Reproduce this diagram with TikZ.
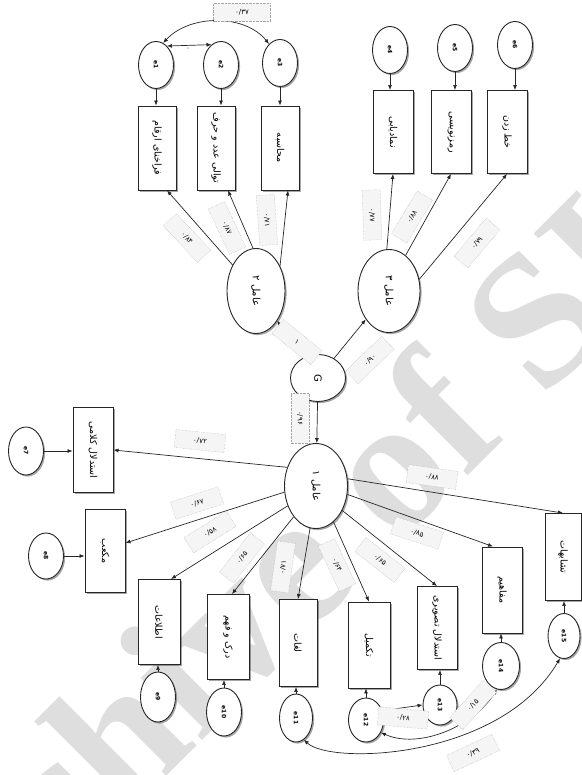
\documentclass[tikz,border=0pt]{standalone}
\usepackage{fontspec}
\usepackage{graphicx}
\usetikzlibrary{shapes.geometric,shadows,arrows.meta}
\TeXXeTstate=1
\newfontfamily\fa[Script=Arabic]{DejaVu Sans}
\newfontfamily\fanum{DejaVu Sans}
\newfontfamily\wmfont{Liberation Serif}
\newcommand{\rtext}[1]{\rotatebox{-90}{\fa\beginR #1\endR}}
\newcommand{\rlat}[1]{\rotatebox{-90}{#1}}
\tikzset{
  shd/.style={drop shadow={shadow xshift=1.6pt, shadow yshift=-1.6pt, opacity=0.35, fill=black}},
  obs/.style={rectangle, draw=black!85, line width=0.9pt, fill=white, minimum width=38pt, minimum height=84pt, inner sep=1pt, shd, font=\fa\fontsize{9.5}{11}\selectfont},
  lat/.style={ellipse, draw=black!85, line width=0.9pt, fill=white, inner sep=0pt, shd, font=\fa\fontsize{10}{12}\selectfont},
  err/.style={ellipse, draw=black!85, line width=0.9pt, fill=white, inner sep=0pt, minimum width=35pt, minimum height=47pt, shd, font=\fanum\bfseries\fontsize{6}{7}\selectfont},
  lbl/.style={draw=black!35, densely dotted, fill=black!4, inner sep=1pt, minimum width=50pt, minimum height=18pt, font=\fanum\fontsize{7}{8}\selectfont},
  arr/.style={draw=black!85, line width=0.7pt, -{Latex[length=5pt,width=4pt]}},
  biarr/.style={draw=black!85, line width=0.7pt, {Latex[length=5pt,width=4pt]}-{Latex[length=5pt,width=4pt]}},
}
\begin{document}
\begin{tikzpicture}[x=1pt,y=-1pt]
\useasboundingbox (0,0) rectangle (581,775);
% watermark
\node[text=black!13, font=\wmfont\bfseries\fontsize{190}{190}\selectfont, rotate=45, inner sep=0pt] (wm) at (292,558) {Archive of SID};

% latent variables
\node[lat, minimum width=55pt, minimum height=47pt] (G) at (318,378) {\rlat{G}};
\node[lat, minimum width=58pt, minimum height=85pt] (F2) at (256,291) {\rtext{عامل ۲}};
\node[lat, minimum width=62pt, minimum height=83pt] (F3) at (389,291) {\rtext{عامل ۳}};
\node[lat, minimum width=63pt, minimum height=85pt] (F1) at (316,486) {\rtext{عامل ۱}};

% factor 2 indicators
\node[obs] (b21) at (157,148) {\rtext{فراخنای ارقام}};
\node[obs] (b22) at (216,148) {\rtext{توالی عدد و حرف}};
\node[obs] (b23) at (280,148) {\rtext{محاسبه}};
\node[err] (e21) at (156,65) {\rlat{e1}};
\node[err] (e22) at (221,65) {\rlat{e2}};
\node[err] (e23) at (280,63) {\rlat{e3}};

% factor 3 indicators
\node[obs, minimum width=40pt, minimum height=83pt] (b31) at (393,132) {\rtext{نمادیابی}};
\node[obs, minimum width=40pt, minimum height=83pt] (b32) at (451,132) {\rtext{رمزنویسی}};
\node[obs, minimum width=40pt, minimum height=83pt] (b33) at (507,132) {\rtext{خط زدن}};
\node[err] (e31) at (390,50) {\rlat{e4}};
\node[err] (e32) at (455,48) {\rlat{e5}};
\node[err] (e33) at (515,45) {\rlat{e6}};

% factor 1 indicators
\node[obs, minimum width=40pt, minimum height=85pt] (b11) at (93,450) {\rtext{استدلال کلامی}};
\node[obs, minimum width=40pt, minimum height=83pt] (b12) at (105,551) {\rtext{مکعب}};
\node[obs, minimum width=42pt, minimum height=85pt] (b13) at (159,622) {\rtext{اطلاعات}};
\node[obs, minimum width=42pt, minimum height=85pt] (b14) at (228,637) {\rtext{درک و فهم}};
\node[obs, minimum width=38pt, minimum height=87pt] (b15) at (298,643) {\rtext{لغات}};
\node[obs, minimum width=42pt, minimum height=86pt] (b16) at (369,645) {\rtext{تکمیل}};
\node[obs, minimum width=40pt, minimum height=83pt] (b17) at (437,628) {\rtext{استدلال تصویری}};
\node[obs, minimum width=40pt, minimum height=86pt] (b18) at (502,590) {\rtext{مفاهیم}};
\node[obs, minimum width=36pt, minimum height=87pt] (b19) at (563,557) {\rtext{تشابهات}};

\node[err, minimum height=48pt] (e11) at (26,451) {\rlat{e7}};
\node[err, minimum height=46pt] (e12) at (46,556) {\rlat{e8}};
\node[err, minimum height=50pt] (e13) at (158,697) {\rlat{e9}};
\node[err, minimum height=48pt] (e14) at (224,712) {\rlat{e10}};
\node[err, minimum width=33pt, minimum height=48pt] (e15) at (296,718) {\rlat{e11}};
\node[err, minimum height=44pt] (e16) at (366,720) {\rlat{e12}};
\node[err, minimum width=34pt, minimum height=40pt] (e17) at (440,705) {\rlat{e13}};
\node[err, minimum width=37pt, minimum height=47pt] (e18) at (501,666) {\rlat{e14}};
\node[err, minimum width=32pt, minimum height=45pt] (e19) at (564,636) {\rlat{e15}};

% G paths
\draw[arr] (G) -- (F2);
\draw[arr] (G) -- (F3);
\draw[arr] (G) -- (F1);

% factor 2 loadings
\draw[arr] (F2.132) -- ([xshift=10pt]b21.south);
\draw[arr] (F2.94) -- ([xshift=12pt]b22.south);
\draw[arr] (F2.46) -- ([xshift=8pt]b23.south);
% factor 3 loadings
\draw[arr] (F3.93) -- (b31.south);
\draw[arr] (F3.65) -- (b32.south);
\draw[arr] (F3.21) -- (b33.south);
% factor 1 loadings
\draw[arr] (F1.147) -- (b11.east);
\draw[arr] (F1.191) -- ([yshift=8pt]b12.east);
\draw[arr] (F1.215) -- ([xshift=12pt]b13.north);
\draw[arr] (F1.234) -- ([xshift=4pt]b14.north);
\draw[arr] (F1.262) -- (b15.north);
\draw[arr] (F1.296) -- (b16.north);
\draw[arr] (F1.317) -- (b17.north);
\draw[arr] (F1.345) -- ([xshift=-9pt]b18.north);
\draw[arr] (F1.13) -- (b19.north);

% error arrows
\draw[arr] (e21.south) -- (e21.south |- b21.north);
\draw[arr] (e22.south) -- (e22.south |- b22.north);
\draw[arr] (e23.south) -- (e23.south |- b23.north);
\draw[arr] (e31.south) -- (e31.south |- b31.north);
\draw[arr] (e32.south) -- (e32.south |- b32.north);
\draw[arr] (e33.south) -- (e33.south |- b33.north);
\draw[arr] (e11.east) -- (e11.east -| b11.west);
\draw[arr] (e12.east) -- (e12.east -| b12.west);
\draw[arr] (e13.north) -- (e13.north |- b13.south);
\draw[arr] (e14.north) -- (e14.north |- b14.south);
\draw[arr] (e15.north) -- (e15.north |- b15.south);
\draw[arr] (e16.north) -- (e16.north |- b16.south);
\draw[arr] (e17.north) -- (e17.north |- b17.south);
\draw[arr] (e18.north) -- (e18.north |- b18.south);
\draw[arr] (e19.north) -- (e19.north |- b19.south);

% covariances
\draw[biarr] (e21.60) -- (e22.115);
\draw[biarr] (e21.72) .. controls (190,14) and (245,14) .. (e23.120);
\draw[biarr] (e16.30) -- (e17.180);
\draw[biarr] (e16.-40) .. controls (420,750) and (475,725) .. (e18.-100);
\draw[biarr] (e15.-70) .. controls (330,765) and (500,760) .. (e19.-100);

% loading labels
\node[lbl, rotate=-6] (l11) at (200,441) {۰/۷۲};
\node[lbl, rotate=18] (l12) at (197,503) {۰/۶۷};
\node[lbl, rotate=32] (l13) at (210,532) {۰/۵۸};
\node[lbl, rotate=52] (l14) at (242,558) {۰/۶۵};
\node[lbl, rotate=82] (l15) at (283,567) {۰/۷۱};
\node[lbl, rotate=-65] (l16) at (337,565) {۰/۶۴};
\node[lbl, rotate=-38] (l17) at (380,560) {۰/۶۵};
\node[lbl, rotate=-18] (l18) at (417,533) {۰/۸۵};
\node[lbl, rotate=-8] (l19) at (432,477) {۰/۸۸};
\node[lbl, rotate=-47] (l21) at (187,238) {۰/۸۴};
\node[lbl, rotate=-65] (l22) at (227,228) {۰/۸۷};
\node[lbl, rotate=-86] (l23) at (267,220) {۰/۷۱};
\node[lbl, rotate=-88] (l31) at (372,215) {۰/۷۷};
\node[lbl, rotate=59] (l32) at (412,217) {۰/۸۸};
\node[lbl, rotate=50] (l33) at (477,243) {۰/۷۹};
\node[lbl, rotate=-39] (lg2) at (297,342) {۱};
\node[lbl, rotate=44] (lg3) at (370,360) {۰/۹۰};
\node[lbl, rotate=-90] (lg1) at (300,418) {۰/۹۶};
% covariance labels
\node[lbl, minimum width=57pt] (c1) at (242,12) {۰/۳۷};
\node[font=\fanum\fontsize{7}{8}\selectfont] (c2) at (188,49) {۰};
\node[lbl, rotate=-5] (c3) at (403,718) {۰/۲۸};
\node[lbl, rotate=48] (c4) at (473,705) {۰/۱۵};
\node[lbl, rotate=25] (c5) at (473,753) {۰/۳۹};
\end{tikzpicture}
\end{document}
